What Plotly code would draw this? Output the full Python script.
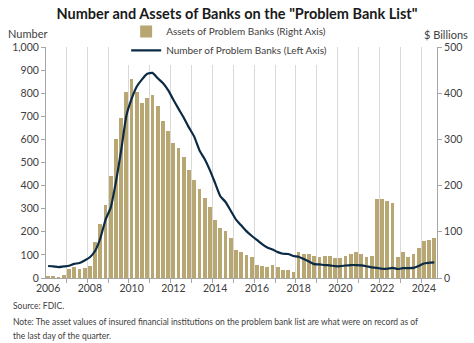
import plotly.graph_objects as go

# Quarterly observations, 2006 Q1 through 2024 Q3
start_year = 2006
quarters = 75

problem_banks = [
    52, 50, 47, 50,
    53, 61, 65, 76,
    90, 117, 171, 252,
    305, 416, 552, 702,
    775, 829, 860, 884,
    888, 865, 844, 813,
    772, 732, 694, 651,
    612, 553, 515, 467,
    411, 354, 329, 291,
    253, 228, 203, 183,
    165, 147, 132, 123,
    112, 105, 104, 95,
    92, 82, 71, 60,
    59, 56, 55, 51,
    51, 54, 56, 56,
    55, 51, 46, 44,
    40, 40, 44, 39,
    43, 43, 44, 52,
    63, 66, 68,
]

# Total assets of problem banks, $ billions
problem_assets = [
    3, 3, 2, 6,
    19.5, 23, 18.5, 22,
    26, 78, 116, 159,
    220, 300, 346, 403,
    431, 403, 379, 390,
    397, 372, 339, 319,
    292, 282, 262, 233,
    213, 192, 174, 153,
    125, 108, 101, 86,
    60, 56, 49, 46,
    29, 27, 24, 27.6,
    23, 17, 17, 14,
    56, 53, 51, 48,
    45, 47, 47, 44,
    43, 47, 53, 56,
    53, 45, 48, 170,
    172, 167, 162, 45,
    56, 45, 53, 65,
    81, 82, 86,
]

year_labels = ["2006", "2008", "2010", "2012", "2014", "2016", "2018", "2020", "2022", "2024"]

x = [start_year + i / 4 for i in range(quarters)]

BAR = "#B8A772"
LINE = "#0B2A45"
AXIS = "#A6A6A6"
GRID = "#D9D9D9"
TEXT = "#404040"
FONT = "Lato, Open Sans, sans-serif"

fig = go.Figure()
# Bars live on the right-hand axis (yaxis), the line on the overlaid left axis
# (yaxis2) so that it is drawn above the bars.
fig.add_trace(go.Bar(
    x=x, y=problem_assets, yaxis="y", width=0.18,
    marker=dict(color=BAR, line=dict(width=0)),
    name="Assets of Problem Banks (Right Axis)",
))
fig.add_trace(go.Scatter(
    x=x, y=problem_banks, yaxis="y2", mode="lines",
    line=dict(color=LINE, width=2.2, shape="spline", smoothing=0.5),
    name="Number of Problem Banks (Left Axis)",
))

fig.update_layout(
    width=474, height=343,
    margin=dict(l=41, r=36, t=47, b=65),
    paper_bgcolor="white", plot_bgcolor="white",
    font=dict(family=FONT, size=10, color=TEXT),
    title=dict(
        text='Number and Assets of Banks on the "Problem Bank List"',
        x=0.5, xanchor="center", y=1 - 14 / 343, yanchor="middle",
        font=dict(family=FONT, size=14.5, color="#1a1a1a", weight="bold"),
    ),
    bargap=0,
    showlegend=True,
    legend=dict(
        x=0.205, y=1.13, xanchor="left", yanchor="top",
        bgcolor="white", borderwidth=0,
        font=dict(size=10, color=TEXT),
        tracegroupgap=0, itemwidth=30,
    ),
    xaxis=dict(
        range=[2005.9, 2024.63],
        tickmode="array", tickvals=[int(v) for v in year_labels], ticktext=year_labels,
        ticks="", showgrid=False, zeroline=False,
        showline=True, linecolor=AXIS, linewidth=1,
        tickfont=dict(size=10.5, color=TEXT),
        minor=dict(tick0=2005.875, dtick=1, ticks="outside", ticklen=4,
                   tickcolor=AXIS, showgrid=True, gridcolor=GRID, gridwidth=1),
    ),
    yaxis=dict(
        range=[0, 500], dtick=100, side="right",
        ticks="outside", ticklen=4, tickcolor=AXIS,
        showline=True, linecolor=AXIS, linewidth=1,
        showgrid=False, zeroline=False,
        tickfont=dict(size=10.5, color=TEXT),
    ),
    yaxis2=dict(
        range=[0, 1000], dtick=100, tickformat=",", overlaying="y", side="left",
        ticks="outside", ticklen=4, tickcolor=AXIS,
        showline=True, linecolor=AXIS, linewidth=1,
        showgrid=False, zeroline=False,
        tickfont=dict(size=10.5, color=TEXT),
    ),
)

fig.add_annotation(text="Number", xref="paper", yref="paper", x=-41 / 397, y=(278.3 - 33) / 231.3,
                   xanchor="left", yanchor="middle", showarrow=False, font=dict(size=11, color=TEXT))
fig.add_annotation(text="$ Billions", xref="paper", yref="paper", x=(471 - 41) / 397, y=(278.3 - 34) / 231.3,
                   xanchor="right", yanchor="middle", showarrow=False, font=dict(size=11, color=TEXT))

footer = [
    (306, "Source: FDIC."),
    (322, "Note: The asset values of insured financial institutions on the problem bank list are what were on record as of"),
    (336, "the last day of the quarter."),
]
for ypx, txt in footer:
    fig.add_annotation(text=txt, xref="paper", yref="paper", x=-36 / 397, y=(278.3 - ypx) / 231.3,
                       xanchor="left", yanchor="middle", showarrow=False,
                       font=dict(family=FONT, size=8.5, color=TEXT))

fig.write_html("out.html")
